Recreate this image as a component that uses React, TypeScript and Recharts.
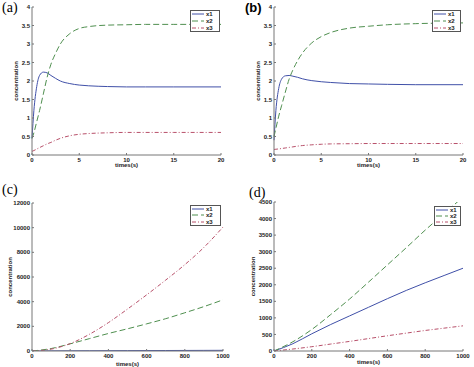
import React from 'react';
import { LineChart, Line, XAxis, YAxis, Legend, Label } from 'recharts';

// ---- Data ----
const timesAB = [0, 0.2, 0.5, 0.8, 1.2, 1.6, 2, 2.5, 3, 4, 5, 6, 8, 10, 12, 15, 20];
const aX1 = [0.45, 1.2, 1.85, 2.15, 2.24, 2.22, 2.15, 2.07, 2.0, 1.93, 1.89, 1.87, 1.85, 1.84, 1.84, 1.84, 1.84];
const aX2 = [0.45, 0.6, 0.9, 1.2, 1.65, 2.1, 2.45, 2.75, 3.0, 3.28, 3.42, 3.47, 3.51, 3.52, 3.53, 3.53, 3.53];
const aX3 = [0.1, 0.12, 0.16, 0.2, 0.25, 0.3, 0.34, 0.4, 0.45, 0.52, 0.56, 0.58, 0.6, 0.61, 0.61, 0.61, 0.61];

const bX1 = [0.4, 1.2, 1.8, 2.05, 2.14, 2.15, 2.13, 2.1, 2.06, 2.01, 1.98, 1.96, 1.93, 1.92, 1.91, 1.9, 1.9];
const bX2 = [0.5, 0.72, 1.05, 1.33, 1.7, 2.05, 2.3, 2.55, 2.75, 3.03, 3.2, 3.31, 3.43, 3.48, 3.52, 3.55, 3.57];
const bX3 = [0.15, 0.155, 0.165, 0.175, 0.19, 0.205, 0.22, 0.24, 0.255, 0.275, 0.29, 0.3, 0.305, 0.31, 0.31, 0.31, 0.31];

const timesCD = [0, 100, 200, 300, 400, 500, 600, 700, 800, 900, 1000];
const cX1 = [0, 10, 15, 20, 25, 30, 35, 40, 45, 50, 55];
const cX2 = [0, 200, 580, 1000, 1420, 1800, 2200, 2620, 3100, 3600, 4150];
const cX3 = [0, 150, 600, 1350, 2300, 3400, 4550, 5750, 7000, 8400, 10050];

const dX1 = [0, 220, 520, 800, 1060, 1320, 1580, 1830, 2060, 2280, 2500];
const dX2 = [0, 280, 650, 1100, 1570, 2080, 2600, 3120, 3650, 4150, 4650];
const dX3 = [0, 60, 130, 210, 290, 375, 460, 540, 620, 690, 760];

const ticksXAB = [0, 5, 10, 15, 20];
const ticksYAB = [0, 0.5, 1, 1.5, 2, 2.5, 3, 3.5, 4];
const ticksXCD = [0, 200, 400, 600, 800, 1000];
const ticksYC = [0, 2000, 4000, 6000, 8000, 10000, 12000];
const ticksYD = [0, 500, 1000, 1500, 2000, 2500, 3000, 3500, 4000, 4500];

const seriesNames = ['x1', 'x2', 'x3'];

// ---- Styles ----
const FONT = '"Liberation Sans", Arial, sans-serif';
const COLORS = ['#4050a8', '#4f8f4f', '#b8506a'];
const DASHES = ['', '6 3', '4 2 1 2'];
const AXIS = '#777';

function buildRows(t: number[], x1: number[], x2: number[], x3: number[]) {
  return t.map((v, i) => ({ t: v, x1: x1[i], x2: x2[i], x3: x3[i] }));
}

function LegendBox() {
  return (
    <div
      style={{
        width: '100%',
        height: '100%',
        boxSizing: 'border-box',
        border: '1px solid #555',
        background: '#fff',
        display: 'flex',
        flexDirection: 'column',
        justifyContent: 'space-around',
        padding: '0 1px',
      }}
    >
      {seriesNames.map((n, i) => (
        <div key={n} style={{ display: 'flex', alignItems: 'center', height: 6 }}>
          <svg width={12} height={4} style={{ marginRight: 2 }}>
            <line x1={0} y1={2} x2={12} y2={2} stroke={COLORS[i]} strokeWidth={1} strokeDasharray={DASHES[i]} />
          </svg>
          <span style={{ fontFamily: FONT, fontSize: 6, fontWeight: 'bold', color: '#222', lineHeight: '6px' }}>{n}</span>
        </div>
      ))}
    </div>
  );
}

type PanelProps = {
  left: number;
  top: number;
  width: number;
  height: number;
  margin: { top: number; right: number; bottom: number; left: number };
  yWidth: number;
  xHeight: number;
  rows: any[];
  xDomain: [number, number];
  yDomain: [number, number];
  xTicks: number[];
  yTicks: number[];
  legend: { left: number; top: number; width: number; height: number };
  xLabelOffset: number;
  yLabelDx: number;
  tag: string;
  tagStyle: React.CSSProperties;
};

function Panel(p: PanelProps) {
  const tickStyle = { fontSize: 6, fontWeight: 'bold' as const, fill: '#222', fontFamily: FONT };
  return (
    <div style={{ position: 'absolute', left: p.left, top: p.top, width: p.width, height: p.height }}>
      <LineChart width={p.width} height={p.height} data={p.rows} margin={p.margin}>
        <XAxis
          dataKey="t"
          type="number"
          domain={p.xDomain}
          ticks={p.xTicks}
          height={p.xHeight}
          stroke={AXIS}
          tickSize={-2}
          tickMargin={5}
          tick={tickStyle}
          interval={0}
        >
          <Label
            value="times(s)"
            position="insideTop"
            offset={p.xLabelOffset}
            style={{ fontSize: 6, fontWeight: 'bold', fill: '#222', fontFamily: FONT }}
          />
        </XAxis>
        <XAxis
          xAxisId="top"
          orientation="top"
          dataKey="t"
          type="number"
          domain={p.xDomain}
          ticks={p.xTicks}
          height={0}
          stroke={AXIS}
          tickSize={-2}
          tick={false}
          interval={0}
        />
        <YAxis
          type="number"
          domain={p.yDomain}
          ticks={p.yTicks}
          width={p.yWidth}
          stroke={AXIS}
          tickSize={-2}
          tickMargin={4}
          tick={tickStyle}
          interval={0}
          allowDataOverflow
        >
          <Label
            value="concentration"
            position="center"
            angle={-90}
            dx={p.yLabelDx}
            style={{ fontSize: 6, fontWeight: 'bold', fill: '#222', fontFamily: FONT }}
          />
        </YAxis>
        <YAxis
          yAxisId="right"
          orientation="right"
          type="number"
          domain={p.yDomain}
          ticks={p.yTicks}
          width={0}
          stroke={AXIS}
          tickSize={-2}
          tick={false}
          interval={0}
        />
        {seriesNames.map((n, i) => (
          <Line
            key={n}
            dataKey={n}
            type="monotone"
            stroke={COLORS[i]}
            strokeWidth={1}
            strokeDasharray={DASHES[i] || undefined}
            dot={false}
            activeDot={false}
            isAnimationActive={false}
          />
        ))}
        <Legend
          layout="horizontal"
          align="center"
          verticalAlign="middle"
          content={() => <LegendBox />}
          wrapperStyle={{ left: p.legend.left, top: p.legend.top, width: p.legend.width, height: p.legend.height }}
        />
      </LineChart>
      <div style={{ position: 'absolute', ...p.tagStyle }}>{p.tag}</div>
    </div>
  );
}

const serifTag: React.CSSProperties = { fontFamily: '"Liberation Serif", "Times New Roman", serif', fontSize: 14, lineHeight: '14px' };
const sansTag: React.CSSProperties = { fontFamily: FONT, fontSize: 13, fontWeight: 'bold', lineHeight: '13px' };

export default function App() {
  return (
    <div style={{ position: 'absolute', left: 0, top: 0, width: 474, height: 367, background: '#fff', overflow: 'hidden' }}>
      <Panel
        left={0}
        top={0}
        width={237}
        height={183}
        margin={{ top: 7, right: 16, bottom: 0, left: 0 }}
        yWidth={32}
        xHeight={28}
        rows={buildRows(timesAB, aX1, aX2, aX3)}
        xDomain={[0, 20]}
        yDomain={[0, 4]}
        xTicks={ticksXAB}
        yTicks={ticksYAB}
        legend={{ left: 190, top: 10, width: 30, height: 22 }}
        xLabelOffset={8}
        yLabelDx={0}
        tag="(a)"
        tagStyle={{ ...serifTag, left: 2, top: 1 }}
      />
      <Panel
        left={237}
        top={0}
        width={237}
        height={183}
        margin={{ top: 7, right: 11, bottom: 0, left: 0 }}
        yWidth={37}
        xHeight={28}
        rows={buildRows(timesAB, bX1, bX2, bX3)}
        xDomain={[0, 20]}
        yDomain={[0, 4]}
        xTicks={ticksXAB}
        yTicks={ticksYAB}
        legend={{ left: 195, top: 10, width: 29, height: 22 }}
        xLabelOffset={8}
        yLabelDx={2.5}
        tag="(b)"
        tagStyle={{ ...sansTag, left: 8, top: 1 }}
      />
      <Panel
        left={0}
        top={183}
        width={237}
        height={184}
        margin={{ top: 20, right: 14, bottom: 0, left: 0 }}
        yWidth={32}
        xHeight={16}
        rows={buildRows(timesCD, cX1, cX2, cX3)}
        xDomain={[0, 1000]}
        yDomain={[0, 12000]}
        xTicks={ticksXCD}
        yTicks={ticksYC}
        legend={{ left: 190, top: 22, width: 31, height: 21 }}
        xLabelOffset={11}
        yLabelDx={-6}
        tag="(c)"
        tagStyle={{ ...serifTag, left: 2, top: 0 }}
      />
      <Panel
        left={237}
        top={183}
        width={237}
        height={184}
        margin={{ top: 19, right: 11, bottom: 0, left: 0 }}
        yWidth={37}
        xHeight={16}
        rows={buildRows(timesCD, dX1, dX2, dX3)}
        xDomain={[0, 1000]}
        yDomain={[0, 4500]}
        xTicks={ticksXCD}
        yTicks={ticksYD}
        legend={{ left: 197, top: 23, width: 27, height: 20 }}
        xLabelOffset={9}
        yLabelDx={-2.5}
        tag="(d)"
        tagStyle={{ ...serifTag, left: 12, top: 3 }}
      />
    </div>
  );
}
